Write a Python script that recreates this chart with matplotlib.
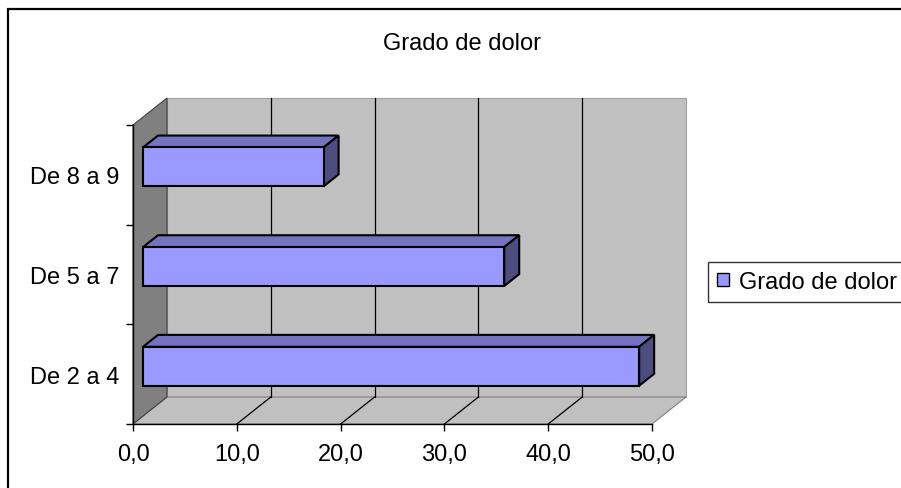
import matplotlib
matplotlib.use("Agg")
import matplotlib.pyplot as plt
import matplotlib.transforms as mtransforms
from matplotlib.patches import Polygon, Patch, Rectangle

plt.rcParams['font.family'] = ['Liberation Sans', 'DejaVu Sans']

# Data
categories = ["De 2 a 4", "De 5 a 7", "De 8 a 9"]
values = [47.8, 34.8, 17.4]
x_ticks = [0, 10, 20, 30, 40, 50]
x_tick_labels = ["0,0", "10,0", "20,0", "30,0", "40,0", "50,0"]
title = "Grado de dolor"
series_name = "Grado de dolor"

FS = 17
W, H = 901, 489
fig = plt.figure(figsize=(W / 100, H / 100), dpi=100)
fig.patch.set_facecolor("white")

# front plane of the 3-D plot area
L, R, T, B = 133, 652, 126, 425
ax = fig.add_axes([L / W, (H - B) / H, (R - L) / W, (B - T) / H])
ax.set_xlim(0, 50)
ax.set_ylim(0, len(categories))
ax.patch.set_visible(False)

# depth offset of the back wall in data units
DX = 34 / ((R - L) / 50)
DY = 27 / ((B - T) / len(categories))
XMAX = 50
NC = len(categories)


def P(v, c, d):
    return (v + d * DX, c + d * DY)


# walls and floor
back = Polygon([P(0, 0, 1), P(XMAX, 0, 1), P(XMAX, NC, 1), P(0, NC, 1)],
               closed=True, facecolor="#C0C0C0", edgecolor="#A0A0A0", lw=0.8,
               clip_on=False, zorder=1)
side = Polygon([P(0, 0, 0), P(0, 0, 1), P(0, NC, 1), P(0, NC, 0)],
               closed=True, facecolor="#808080", edgecolor="#404040", lw=0.8,
               clip_on=False, zorder=1)
floor = Polygon([P(0, 0, 0), P(XMAX, 0, 0), P(XMAX, 0, 1), P(0, 0, 1)],
                closed=True, facecolor="#C0C0C0", edgecolor="#808080", lw=0.8,
                clip_on=False, zorder=1)
for p in (back, floor, side):
    ax.add_patch(p)

# gridlines on back wall and floor
for v in x_ticks[1:-1]:
    x0, y0 = P(v, 0, 1)
    x1, y1 = P(v, NC, 1)
    ax.plot([x0, x1], [y0, y1], color="black", lw=0.9, clip_on=False, zorder=1.5)
    fx, fy = P(v, 0, 0)
    ax.plot([fx, x0], [fy, y0], color="black", lw=0.9, clip_on=False, zorder=1.5)

# 3-D bars
f0, f1 = 0.294, 0.735
bh = 0.39
centers = [i + 0.5 for i in range(NC)]
offset = mtransforms.offset_copy(ax.transData, fig=fig, x=f0 * 34, y=f0 * 27, units="dots")
ax.barh(centers, values, height=bh, color="#9999FF", edgecolor="black",
        linewidth=1.5, transform=offset, clip_on=False, zorder=3)
for c, v in zip(centers, values):
    top = c + bh / 2
    bot = c - bh / 2
    ax.add_patch(Polygon([P(0, top, f0), P(v, top, f0), P(v, top, f1), P(0, top, f1)],
                         closed=True, facecolor="#7373BF", edgecolor="black",
                         lw=1.5, clip_on=False, zorder=2.8, joinstyle="miter"))
    ax.add_patch(Polygon([P(v, bot, f0), P(v, top, f0), P(v, top, f1), P(v, bot, f1)],
                         closed=True, facecolor="#4D4D80", edgecolor="black",
                         lw=1.5, clip_on=False, zorder=2.8, joinstyle="miter"))

# axes, ticks, labels
for s in ("top", "right"):
    ax.spines[s].set_visible(False)
for s in ("left", "bottom"):
    ax.spines[s].set_color("black")
    ax.spines[s].set_linewidth(1.0)
    ax.spines[s].set_zorder(2)

ax.set_xticks(x_ticks)
ax.set_xticklabels(x_tick_labels, fontsize=FS)
ax.tick_params(axis="x", direction="out", length=5, width=1, pad=8.5, colors="black")

ax.set_yticks(range(NC + 1))
ax.set_yticklabels([])
ax.set_yticks(centers, minor=True)
ax.set_yticklabels(categories, minor=True, fontsize=FS)
ax.tick_params(axis="y", which="major", direction="out", length=5, width=1)
ax.tick_params(axis="y", which="minor", length=0, pad=9.5)

fig.text(462 / W, 1 - 44 / H, title, ha="center", va="center", fontsize=FS)

leg = fig.legend(handles=[Patch(facecolor="#9999FF", edgecolor="black", lw=1)],
                 labels=[series_name], loc="upper left",
                 bbox_to_anchor=(708 / W, 1 - 263 / H), bbox_transform=fig.transFigure,
                 fontsize=FS, frameon=True, fancybox=False, shadow=False,
                 borderaxespad=0, borderpad=0.38, handlelength=0.5, handleheight=0.5,
                 handletextpad=0.45)
leg.get_frame().set_edgecolor("black")
leg.get_frame().set_linewidth(1.0)

# chart area border
fig.patches.append(Rectangle((7.5 / W, -0.1), 1.2, 1.1 - 9.5 / H, transform=fig.transFigure,
                             fill=False, edgecolor="black", lw=1.6, figure=fig))

fig.savefig("out.png", dpi=100)
